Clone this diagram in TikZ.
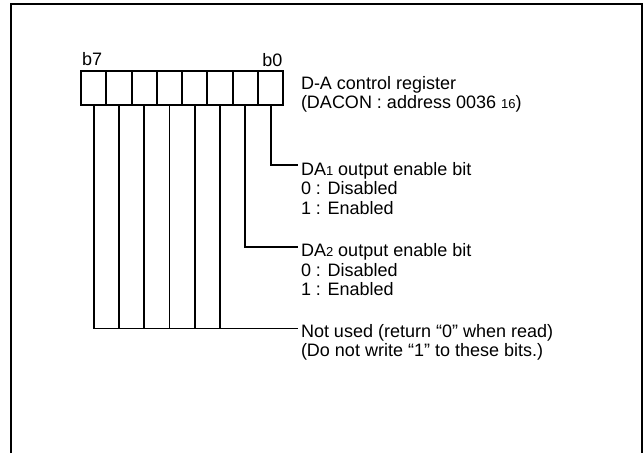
\documentclass[tikz,border=0pt]{standalone}
\usepackage{fontspec}
\setmainfont{Liberation Sans}
\newcommand{\subsz}{\fontsize{13}{13}\selectfont}
\begin{document}
\begin{tikzpicture}[x=1pt,y=-1pt,
  frame/.style={line width=2pt},
  cell/.style={draw,line width=2pt,minimum width=25.29pt,minimum height=34pt,inner sep=0pt},
  conn/.style={line width=1.8pt},
  lbl/.style={font=\fontsize{18}{19}\selectfont,inner sep=0pt,anchor=base west}]
\useasboundingbox (0,0) rectangle (644,453);
\draw[frame] (11,453) -- (11,4) -- (642,4) -- (642,453);
% register cells (b7 on the left)
\foreach \i in {0,...,7}{
  \pgfmathtruncatemacro{\bitno}{7-\i}
  \node[cell] (c\bitno) at ({81+25.29*(\i+0.5)},88) {};
}
\node[lbl] (b7) at (82,65) {b7};
\node[lbl,anchor=base east] (b0) at (282.5,66) {b0};
% title
\node[lbl] (reg1) at (300.8,89.5) {D-A control register};
\node[lbl] (reg2) at (300.8,108.5) {(DACON : address 0036\ {\subsz 16})};
% DA1
\coordinate (t1) at (298,165);
\node[lbl] (da1a) at (300.8,175) {DA{\subsz 1} output enable bit};
\node[lbl] (da1b) at (300.8,194.5) {0 : Disabled};
\node[lbl] (da1c) at (300.8,214) {1 : Enabled};
\draw[conn] (c0.south) |- (t1);
% DA2
\coordinate (t2) at (298,247);
\node[lbl] (da2a) at (300.8,256.5) {DA{\subsz 2} output enable bit};
\node[lbl] (da2b) at (300.8,276) {0 : Disabled};
\node[lbl] (da2c) at (300.8,295.5) {1 : Enabled};
\draw[conn] (c1.south) |- (t2);
% not used
\coordinate (t3) at (298,328.5);
\node[lbl] (nu1) at (300.8,337) {Not used (return “0” when read)};
\node[lbl] (nu2) at (300.8,356.5) {(Do not write “1” to these bits.)};
\draw[conn] (c7.south) |- (t3);
\foreach \b in {2,...,6}{
  \draw[conn] (c\b.south) -- (c\b.south |- t3);
}
\end{tikzpicture}
\end{document}
